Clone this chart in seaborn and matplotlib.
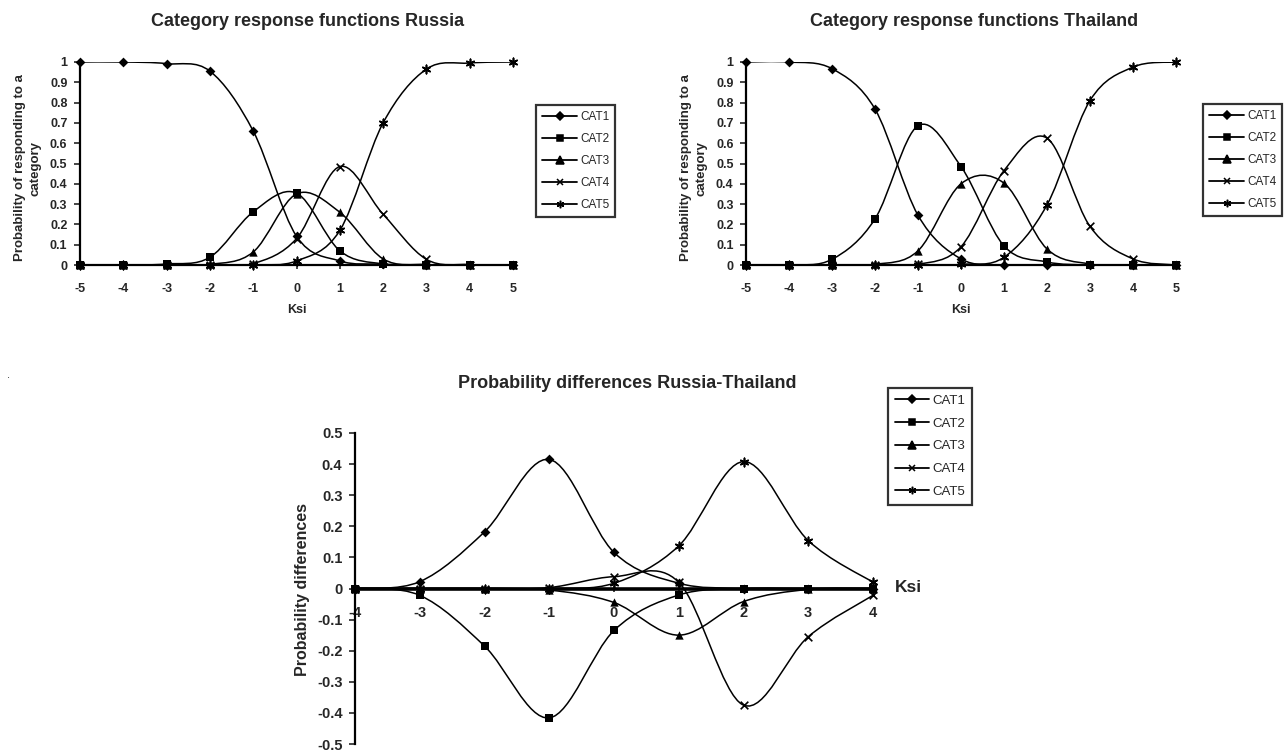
import numpy as np
import pandas as pd
import matplotlib
matplotlib.use('Agg')
import matplotlib.pyplot as plt
from matplotlib.path import Path
from matplotlib.patches import PathPatch
from matplotlib.lines import Line2D
import seaborn as sns

# data
ksi = [-5, -4, -3, -2, -1, 0, 1, 2, 3, 4, 5]
cats = ['CAT1', 'CAT2', 'CAT3', 'CAT4', 'CAT5']

russia_cat1 = [1.0, 1.0, 0.992, 0.955, 0.66, 0.142, 0.02, 0.004, 0.0, 0.0, 0.0]
russia_cat2 = [0.0, 0.0, 0.005, 0.038, 0.262, 0.354, 0.07, 0.005, 0.0, 0.0, 0.0]
russia_cat3 = [0.0, 0.0, 0.0, 0.003, 0.064, 0.35, 0.26, 0.03, 0.002, 0.0, 0.0]
russia_cat4 = [0.0, 0.0, 0.0, 0.0, 0.007, 0.13, 0.485, 0.25, 0.028, 0.002, 0.0]
russia_cat5 = [0.0, 0.0, 0.0, 0.0, 0.0, 0.02, 0.17, 0.70, 0.965, 0.995, 1.0]

thai_cat1 = [1.0, 1.0, 0.967, 0.768, 0.245, 0.03, 0.0, 0.0, 0.0, 0.0, 0.0]
thai_cat2 = [0.0, 0.0, 0.028, 0.227, 0.686, 0.485, 0.094, 0.015, 0.0, 0.0, 0.0]
thai_cat3 = [0.0, 0.0, 0.0, 0.003, 0.07, 0.40, 0.403, 0.079, 0.005, 0.0, 0.0]
thai_cat4 = [0.0, 0.0, 0.0, 0.0, 0.003, 0.09, 0.465, 0.625, 0.19, 0.03, 0.0]
thai_cat5 = [0.0, 0.0, 0.0, 0.0, 0.0, 0.003, 0.038, 0.296, 0.81, 0.975, 1.0]

ksi_diff = [-4, -3, -2, -1, 0, 1, 2, 3, 4]
diff_cat1 = [0.0, 0.022, 0.182, 0.415, 0.116, 0.017, 0.0, 0.0, 0.0]
diff_cat2 = [0.0, -0.022, -0.185, -0.416, -0.135, -0.021, 0.0, 0.0, 0.0]
diff_cat3 = [0.0, 0.0, 0.0, -0.005, -0.045, -0.15, -0.042, -0.003, 0.0]
diff_cat4 = [0.0, 0.0, 0.0, 0.003, 0.038, 0.02, -0.375, -0.155, -0.022]
diff_cat5 = [0.0, 0.0, 0.0, 0.0, 0.017, 0.137, 0.408, 0.154, 0.02]

markers = {'CAT1': 'D', 'CAT2': 's', 'CAT3': '^', 'CAT4': 'x', 'CAT5': (6, 2, 0)}
msizes = {'CAT1': 5, 'CAT2': 5.5, 'CAT3': 6, 'CAT4': 5.5, 'CAT5': 6}

sns.set_theme(style='white')
plt.rcParams['font.family'] = ['Liberation Sans', 'DejaVu Sans']

W, H = 1285, 753


def fx(px):
    return px / W


def fy(py):
    return 1 - py / H


def smooth_line(ax, xs, ys, lw=1.1):
    # Excel style smoothed line: bezier through the data points
    pts = np.column_stack([xs, ys]).astype(float)
    verts = [pts[0]]
    codes = [Path.MOVETO]
    n = len(pts)
    for i in range(n - 1):
        p0 = pts[i - 1] if i > 0 else pts[i]
        p1, p2 = pts[i], pts[i + 1]
        p3 = pts[i + 2] if i + 2 < n else pts[i + 1]
        verts += [p1 + (p2 - p0) / 6, p2 - (p3 - p1) / 6, p2]
        codes += [Path.CURVE4] * 3
    ax.add_patch(PathPatch(Path(verts, codes), fill=False, lw=lw, ec='black', zorder=2))


def draw_series(ax, x, series):
    for cat, ys in zip(cats, series):
        smooth_line(ax, x, ys)
        df = pd.DataFrame({'Ksi': x, 'p': ys})
        lw = 1.2 if cat in ('CAT4', 'CAT5') else 0
        sns.scatterplot(data=df, x='Ksi', y='p', ax=ax, marker=markers[cat],
                        s=msizes[cat] ** 2, color='black', edgecolor='black',
                        linewidth=lw, zorder=3, clip_on=False, legend=False)


def make_legend(ax, x0, y0, spacing, fs=8.5, hl=3.0):
    handles = [Line2D([], [], color='black', lw=1.3, marker=markers[c],
                      markersize=msizes[c] * 0.9, markeredgewidth=1.1) for c in cats]
    leg = ax.legend(handles, cats, loc='upper left', bbox_to_anchor=(fx(x0), fy(y0)),
                    bbox_transform=fig.transFigure, frameon=True, fancybox=False,
                    fontsize=fs, handlelength=hl, handletextpad=0.25,
                    labelspacing=spacing, borderpad=0.5, borderaxespad=0)
    leg.get_frame().set_edgecolor('black')
    leg.get_frame().set_linewidth(1.6)
    return leg


fig = plt.figure(figsize=(W / 100, H / 100), dpi=100)

top_panels = [
    ('Category response functions Russia',
     [russia_cat1, russia_cat2, russia_cat3, russia_cat4, russia_cat5],
     (80, 513), 308, 28, (536, 105)),
    ('Category response functions Thailand',
     [thai_cat1, thai_cat2, thai_cat3, thai_cat4, thai_cat5],
     (746, 1176), 974, 694, (1203, 104)),
]

for title, series, (x0, x1), tcx, ylx, (lgx, lgy) in top_panels:
    ax = fig.add_axes([fx(x0), fy(265), (x1 - x0) / W, (265 - 62) / H])
    draw_series(ax, ksi, series)
    ax.set_xlim(-5, 5)
    ax.set_ylim(0, 1)
    ax.set_xticks(ksi)
    ax.set_xticklabels([str(v) for v in ksi])
    yt = [round(v * 0.1, 1) for v in range(11)]
    ax.set_yticks(yt)
    ax.set_yticklabels(['0' if v == 0 else ('1' if v == 1 else str(v)) for v in yt])
    for s in ('top', 'right'):
        ax.spines[s].set_visible(False)
    for s in ('left', 'bottom'):
        ax.spines[s].set_color('black')
        ax.spines[s].set_linewidth(1.6)
    ax.tick_params(axis='y', direction='out', length=4, width=1.2, pad=5,
                   labelsize=9, left=True)
    ax.tick_params(axis='x', direction='out', length=3, width=1.2, pad=10,
                   labelsize=9, bottom=True)
    for lab in ax.get_xticklabels() + ax.get_yticklabels():
        lab.set_fontweight('bold')
    ax.set_xlabel('')
    ax.set_ylabel('')
    fig.text(fx(tcx), fy(21), title, ha='center', va='center',
             fontsize=13, fontweight='bold')
    fig.text(fx((x0 + x1) / 2), fy(310), 'Ksi', ha='center', va='center',
             fontsize=9, fontweight='bold')
    fig.text(fx(ylx), fy(168), 'Probability of responding to a\ncategory',
             ha='center', va='center', rotation=90, fontsize=9.5,
             fontweight='bold', linespacing=1.35)
    make_legend(ax, lgx, lgy, 0.85)

# bottom panel: differences
ax = fig.add_axes([fx(355), fy(744), (873 - 355) / W, (744 - 433) / H])
draw_series(ax, ksi_diff, [diff_cat1, diff_cat2, diff_cat3, diff_cat4, diff_cat5])
ax.set_xlim(-4, 4)
ax.set_ylim(-0.5, 0.5)
ax.set_xticks(ksi_diff)
ax.set_xticklabels([str(v) for v in ksi_diff])
yt = [round(v * 0.1, 1) for v in range(-5, 6)]
ax.set_yticks(yt)
ax.set_yticklabels(['0' if v == 0 else str(v) for v in yt])
for s in ('top', 'right'):
    ax.spines[s].set_visible(False)
ax.spines['bottom'].set_position(('data', 0))
ax.spines['bottom'].set_linewidth(2.6)
ax.spines['bottom'].set_color('black')
ax.spines['left'].set_linewidth(1.6)
ax.spines['left'].set_color('black')
ax.tick_params(axis='y', direction='out', length=4, width=1.2, pad=5,
               labelsize=10.5, left=True)
ax.tick_params(axis='x', direction='inout', length=5, width=1.2, pad=10,
               labelsize=10.5, bottom=True)
for lab in ax.get_xticklabels() + ax.get_yticklabels():
    lab.set_fontweight('bold')
ax.set_xlabel('')
ax.set_ylabel('')
fig.text(fx(627), fy(383), 'Probability differences Russia-Thailand', ha='center',
         va='center', fontsize=13, fontweight='bold')
fig.text(fx(895), fy(588), 'Ksi', ha='left', va='center', fontsize=12.5,
         fontweight='bold')
fig.text(fx(302), fy(590), 'Probability differences', ha='center', va='center',
         rotation=90, fontsize=11.5, fontweight='bold')
make_legend(ax, 888, 388, 0.8, fs=9.5, hl=2.6)

fig.text(fx(8), fy(375), '.', ha='center', va='center', fontsize=8)

fig.savefig('out.png', dpi=100, facecolor='white')
